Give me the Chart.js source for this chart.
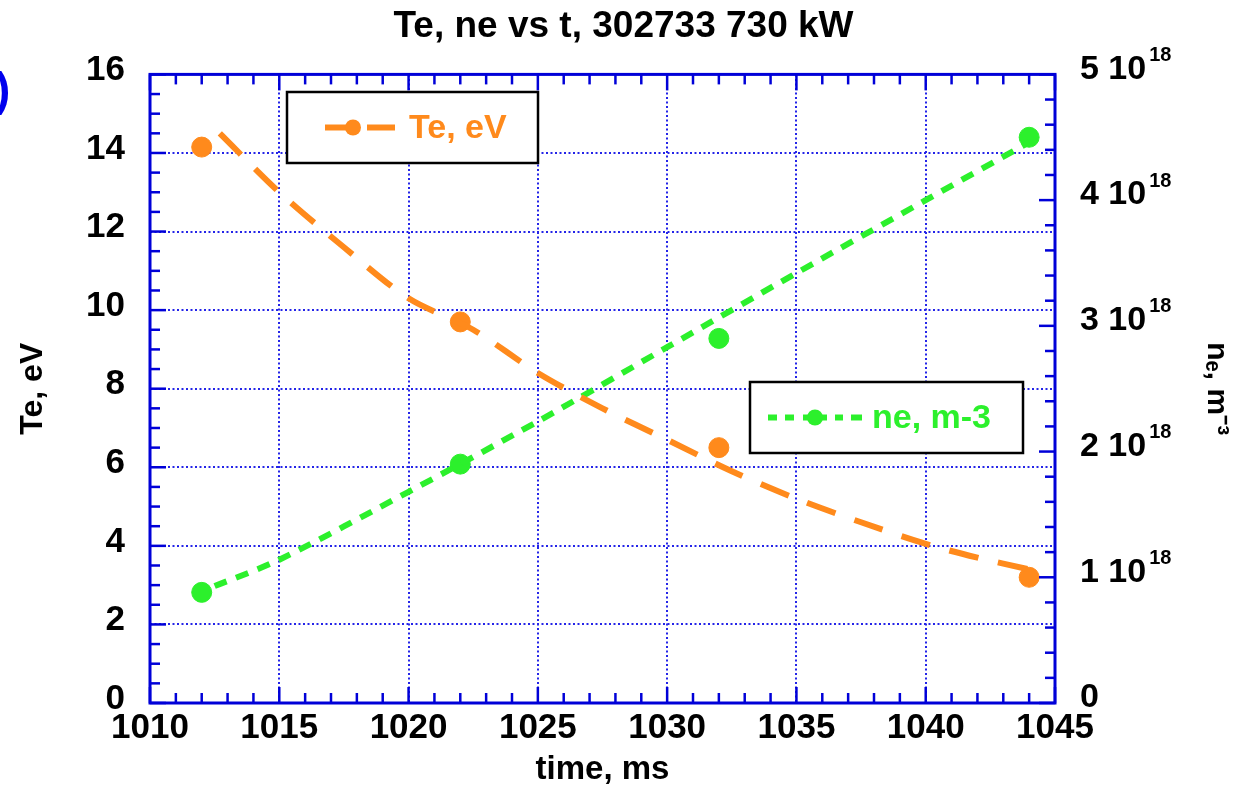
<!DOCTYPE html>
<html>
<head>
<meta charset="utf-8">
<script src="https://cdn.jsdelivr.net/npm/chart.js@4"></script>
<style>
  body { margin: 0; background: #fff; }
  #wrap { position: relative; width: 1247px; height: 787px; }
  #edge { position: absolute; left: -5px; top: 62px; font: bold 46px "Liberation Sans", Arial, sans-serif; color: #0000ee; }
</style>
</head>
<body>
<div id="wrap">
  <canvas id="myChart"></canvas>
  <span id="edge">)</span>
</div>
<script>
// measured points
var times = [1012, 1022, 1032, 1044];
var teValues = [14.15, 9.7, 6.5, 3.2];
var neValues = [0.88e18, 1.90e18, 2.90e18, 4.50e18];

// fitted curves
var teFitTimes = [1012.7, 1015, 1017.5, 1020, 1022.5, 1025, 1027.5, 1030, 1032.5, 1035, 1037.5, 1040, 1042, 1044];
var teFitValues = [14.5, 13.0, 11.6, 10.3, 9.5, 8.4, 7.5, 6.7, 5.9, 5.2, 4.6, 4.05, 3.7, 3.4];
var neFitTimes = [1012.5, 1015, 1020, 1025, 1030, 1035, 1040, 1044];
var neFitValues = [0.93e18, 1.14e18, 1.68e18, 2.24e18, 2.83e18, 3.42e18, 4.0e18, 4.46e18];

// axis ticks
var xTicks = [1010, 1045, 5, 1];      // min, max, major, minor
var yTicks = [0, 16, 2, 0.5];
var y2Ticks = [0, 5, 1, 0.2];         // in units of 1e18

var orange = "#ff8a1c";
var green = "#2cf02c";
var blue = "#0000d8";
var fontFamily = '"Liberation Sans", Arial, sans-serif';

function pts(xs, ys) {
    return xs.map(function (x, i) { return { x: x, y: ys[i] }; });
}

function drawTicks(ctx, scale, t, mult, side, area) {
    for (var v = t[0]; v <= t[1] + 1e-9; v += t[3]) {
        var major = Math.abs(v / t[2] - Math.round(v / t[2])) < 1e-6;
        var len = major ? 16 : 10;
        var p = scale.getPixelForValue(v * mult);
        ctx.beginPath();
        if (side === "bottom") { ctx.moveTo(p, area.bottom); ctx.lineTo(p, area.bottom - len); }
        if (side === "top") { ctx.moveTo(p, area.top); ctx.lineTo(p, area.top + len); }
        if (side === "left") { ctx.moveTo(area.left, p); ctx.lineTo(area.left + len, p); }
        if (side === "right") { ctx.moveTo(area.right, p); ctx.lineTo(area.right - len, p); }
        ctx.stroke();
    }
}

// legend box: segs = list of [x0, x1] line pieces relative to box
function legendBox(ctx, x, y, w, h, color, segs, markX, textX, label) {
    ctx.save();
    ctx.fillStyle = "#fff";
    ctx.fillRect(x, y, w, h);
    ctx.strokeStyle = "#000";
    ctx.lineWidth = 2.5;
    ctx.strokeRect(x, y, w, h);
    var cy = y + h / 2;
    ctx.strokeStyle = color;
    ctx.lineWidth = 6;
    segs.forEach(function (s) {
        ctx.beginPath();
        ctx.moveTo(x + s[0], cy);
        ctx.lineTo(x + s[1], cy);
        ctx.stroke();
    });
    ctx.fillStyle = color;
    ctx.beginPath();
    ctx.arc(x + markX, cy, 8, 0, Math.PI * 2);
    ctx.fill();
    ctx.font = "bold 34px " + fontFamily;
    ctx.textBaseline = "middle";
    ctx.fillText(label, x + textX, cy + 1);
    ctx.restore();
}

var framePlugin = {
    id: "frame",
    afterDraw: function (chart) {
        var ctx = chart.ctx;
        var a = chart.chartArea;
        ctx.save();
        ctx.strokeStyle = blue;
        ctx.lineWidth = 2.5;
        drawTicks(ctx, chart.scales.x, xTicks, 1, "bottom", a);
        drawTicks(ctx, chart.scales.x, xTicks, 1, "top", a);
        drawTicks(ctx, chart.scales.y, yTicks, 1, "left", a);
        drawTicks(ctx, chart.scales.y2, y2Ticks, 1e18, "right", a);
        ctx.lineWidth = 3;
        ctx.strokeRect(a.left, a.top, a.right - a.left, a.bottom - a.top);

        // right axis labels with exponent
        ctx.fillStyle = "#000";
        ctx.textAlign = "left";
        for (var v = y2Ticks[0]; v <= y2Ticks[1]; v += y2Ticks[2]) {
            var p = chart.scales.y2.getPixelForValue(v * 1e18);
            ctx.font = "bold 34px " + fontFamily;
            ctx.textBaseline = "middle";
            if (v === 0) {
                ctx.fillText("0", 1080, p - 5);
                continue;
            }
            var main = v + " 10";
            ctx.fillText(main, 1080, p - 5);
            var w = ctx.measureText(main).width;
            ctx.font = "bold 20px " + fontFamily;
            ctx.textBaseline = "top";
            ctx.fillText("18", 1080 + w + 3, p - 29);
        }
        ctx.restore();

        legendBox(ctx, 287, 92, 251, 71, orange, [[38, 62], [80, 108]], 66, 122, "Te, eV");
        legendBox(ctx, 750, 382, 273, 71, green, [[18, 27], [35, 44], [53, 61], [70, 77], [85, 93], [101, 112]], 65, 122, "ne, m-3");
    }
};

new Chart("myChart", {
    type: "scatter",
    data: {
        datasets: [{
            label: "Te fit",
            data: pts(teFitTimes, teFitValues),
            yAxisID: "y",
            showLine: true,
            borderColor: orange,
            borderWidth: 6,
            borderDash: [30, 20],
            pointRadius: 0,
            tension: 0.3,
        },
        {
            label: "ne fit",
            data: pts(neFitTimes, neFitValues),
            yAxisID: "y2",
            showLine: true,
            borderColor: green,
            borderWidth: 6,
            borderDash: [13, 10],
            pointRadius: 0,
            tension: 0.3,
        },
        {
            label: "Te, eV",
            data: pts(times, teValues),
            yAxisID: "y",
            backgroundColor: orange,
            borderColor: orange,
            pointRadius: 10,
        },
        {
            label: "ne, m-3",
            data: pts(times, neValues),
            yAxisID: "y2",
            backgroundColor: green,
            borderColor: green,
            pointRadius: 10,
        },
        ],
    },
    options: {
        responsive: true,
        maintainAspectRatio: false,
        animation: false,
        layout: { padding: 0 },
        plugins: {
            legend: { display: false },
            tooltip: { enabled: false },
            title: {
                display: true,
                text: "Te, ne vs t, 302733 730 kW",
                color: "#000",
                font: { family: fontFamily, size: 37, weight: "bold", lineHeight: 1.2 },
                padding: { top: 5, bottom: 25 },
            },
        },
        scales: {
            x: {
                type: "linear",
                min: xTicks[0],
                max: xTicks[1],
                afterFit: function (s) { s.height = 84; },
                ticks: {
                    stepSize: xTicks[2],
                    padding: 4,
                    color: "#000",
                    font: { family: fontFamily, size: 35, weight: "bold" },
                    callback: function (v) { return String(v); },
                },
                grid: { color: "#2424e8", lineWidth: 2, drawTicks: false },
                border: { display: false, dash: [2, 2.5] },
                title: {
                    display: true,
                    text: "time, ms",
                    color: "#000",
                    font: { family: fontFamily, size: 33, weight: "bold", lineHeight: 1 },
                    padding: { top: 0, bottom: 1 },
                },
            },
            y: {
                position: "left",
                min: yTicks[0],
                max: yTicks[1],
                afterFit: function (s) { s.width = 150; },
                ticks: {
                    stepSize: yTicks[2],
                    padding: 25,
                    labelOffset: -4,
                    color: "#000",
                    font: { family: fontFamily, size: 35, weight: "bold" },
                },
                grid: { color: "#2424e8", lineWidth: 2, drawTicks: false },
                border: { display: false, dash: [2, 2.5] },
                title: {
                    display: true,
                    text: "Te, eV",
                    color: "#000",
                    font: { family: fontFamily, size: 32, weight: "bold", lineHeight: 1 },
                    padding: { top: 17, bottom: 0 },
                },
            },
            y2: {
                position: "right",
                min: y2Ticks[0] * 1e18,
                max: y2Ticks[1] * 1e18,
                afterFit: function (s) { s.width = 192; },
                ticks: { display: false, stepSize: y2Ticks[2] * 1e18 },
                grid: { display: false, drawTicks: false },
                border: { display: false },
                title: {
                    display: true,
                    text: "nₑ, m⁻³",
                    color: "#000",
                    font: { family: fontFamily, size: 30, weight: "bold", lineHeight: 1 },
                    padding: { top: 16, bottom: 0 },
                },
            },
        },
    },
    plugins: [framePlugin],
});
</script>
</body>
</html>
